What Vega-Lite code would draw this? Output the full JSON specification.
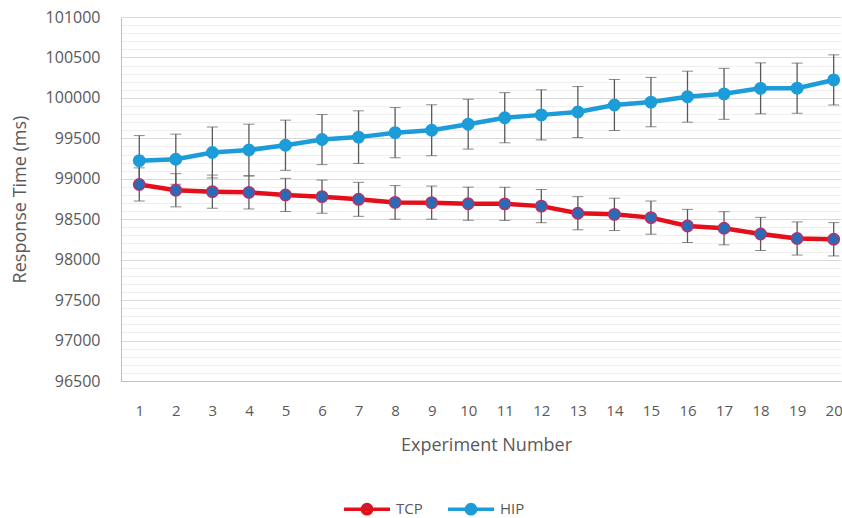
{
  "$schema": "https://vega.github.io/schema/vega-lite/v6.json",
  "autosize": {"type": "none"},
  "padding": {"left": 121, "top": 17, "right": 1, "bottom": 137},
  "width": 720,
  "height": 364,
  "background": "white",
  "config": {"view": {"stroke": null}, "font": "Open Sans"},
  "data": {"values": [
    {"exp": 1, "series": "TCP", "value": 98930, "err": 205},
    {"exp": 2, "series": "TCP", "value": 98858, "err": 205},
    {"exp": 3, "series": "TCP", "value": 98841, "err": 205},
    {"exp": 4, "series": "TCP", "value": 98832, "err": 205},
    {"exp": 5, "series": "TCP", "value": 98800, "err": 205},
    {"exp": 6, "series": "TCP", "value": 98779, "err": 205},
    {"exp": 7, "series": "TCP", "value": 98746, "err": 210},
    {"exp": 8, "series": "TCP", "value": 98708, "err": 208},
    {"exp": 9, "series": "TCP", "value": 98705, "err": 205},
    {"exp": 10, "series": "TCP", "value": 98692, "err": 205},
    {"exp": 11, "series": "TCP", "value": 98690, "err": 205},
    {"exp": 12, "series": "TCP", "value": 98662, "err": 205},
    {"exp": 13, "series": "TCP", "value": 98574, "err": 205},
    {"exp": 14, "series": "TCP", "value": 98560, "err": 200},
    {"exp": 15, "series": "TCP", "value": 98520, "err": 205},
    {"exp": 16, "series": "TCP", "value": 98417, "err": 205},
    {"exp": 17, "series": "TCP", "value": 98388, "err": 205},
    {"exp": 18, "series": "TCP", "value": 98318, "err": 205},
    {"exp": 19, "series": "TCP", "value": 98262, "err": 205},
    {"exp": 20, "series": "TCP", "value": 98252, "err": 206},
    {"exp": 1, "series": "HIP", "value": 99224, "err": 310},
    {"exp": 2, "series": "HIP", "value": 99242, "err": 310},
    {"exp": 3, "series": "HIP", "value": 99325, "err": 315},
    {"exp": 4, "series": "HIP", "value": 99355, "err": 320},
    {"exp": 5, "series": "HIP", "value": 99415, "err": 310},
    {"exp": 6, "series": "HIP", "value": 99485, "err": 310},
    {"exp": 7, "series": "HIP", "value": 99515, "err": 325},
    {"exp": 8, "series": "HIP", "value": 99570, "err": 310},
    {"exp": 9, "series": "HIP", "value": 99600, "err": 315},
    {"exp": 10, "series": "HIP", "value": 99675, "err": 308},
    {"exp": 11, "series": "HIP", "value": 99755, "err": 310},
    {"exp": 12, "series": "HIP", "value": 99790, "err": 310},
    {"exp": 13, "series": "HIP", "value": 99825, "err": 315},
    {"exp": 14, "series": "HIP", "value": 99912, "err": 315},
    {"exp": 15, "series": "HIP", "value": 99948, "err": 305},
    {"exp": 16, "series": "HIP", "value": 100015, "err": 315},
    {"exp": 17, "series": "HIP", "value": 100050, "err": 315},
    {"exp": 18, "series": "HIP", "value": 100118, "err": 315},
    {"exp": 19, "series": "HIP", "value": 100120, "err": 310},
    {"exp": 20, "series": "HIP", "value": 100222, "err": 310}
  ]},
  "encoding": {
    "x": {
      "field": "exp", "type": "quantitative",
      "scale": {"domain": [0.5, 20.2], "nice": false, "zero": false},
      "axis": {
        "title": "Experiment Number",
        "values": [1,2,3,4,5,6,7,8,9,10,11,12,13,14,15,16,17,18,19,20],
        "format": "d", "grid": false, "ticks": false, "tickSize": 0,
        "labelPadding": 22, "labelFontSize": 15, "labelColor": "#595959",
        "labelFlush": false, "labelOverlap": false,
        "titleFontSize": 18, "titleFontWeight": "normal", "titleColor": "#595959",
        "titlePadding": 18, "titleX": 365,
        "domainColor": "#bfbfbf"
      }
    },
    "y": {
      "field": "value", "type": "quantitative",
      "scale": {"domain": [96500, 101000], "nice": false, "zero": false},
      "axis": {
        "title": "Response Time (ms)",
        "values": [96500,96600,96700,96800,96900,97000,97100,97200,97300,97400,97500,97600,97700,97800,97900,98000,98100,98200,98300,98400,98500,98600,98700,98800,98900,99000,99100,99200,99300,99400,99500,99600,99700,99800,99900,100000,100100,100200,100300,100400,100500,100600,100700,100800,100900,101000],
        "format": "d",
        "labelExpr": "datum.value % 500 === 0 ? datum.label : ''",
        "labelOverlap": false,
        "grid": true,
        "gridColor": {"condition": {"test": "datum.value % 500 === 0", "value": "#d9d9d9"}, "value": "#efefef"},
        "ticks": false, "tickSize": 0,
        "labelPadding": 21, "labelFontSize": 16, "labelColor": "#595959",
        "titleFontSize": 18, "titleFontWeight": "normal", "titleColor": "#595959",
        "titleX": -92, "titleY": 182,
        "domainColor": "#bfbfbf"
      }
    }
  },
  "layer": [
    {
      "mark": {"type": "errorbar", "ticks": {"size": 11, "color": "#595959", "strokeWidth": 1.3}, "rule": {"color": "#595959", "strokeWidth": 1.3}},
      "encoding": {
        "y": {"field": "value", "type": "quantitative"},
        "yError": {"field": "err"},
        "detail": {"field": "series"}
      }
    },
    {
      "mark": {"type": "line", "strokeWidth": 4.5},
      "encoding": {
        "color": {
          "field": "series", "type": "nominal",
          "scale": {"domain": ["TCP", "HIP"], "range": ["#e3101a", "#1c9cd8"]},
          "legend": {
            "orient": "none", "legendX": 221, "legendY": 467,
            "direction": "horizontal", "title": null,
            "symbolType": "M-1,0H1M-0.2,0A0.2,0.2 0 1,0 0.2,0A0.2,0.2 0 1,0 -0.2,0",
            "symbolSize": 2116, "symbolStrokeWidth": 3.5,
            "labelFontSize": 15, "labelColor": "#595959", "labelOffset": 4,
            "columnPadding": 18,
            "encode": {"symbols": {"update": {"fill": {"signal": "datum.value === 'TCP' ? '#2a6bb8' : '#1c9cd8'"}, "fillOpacity": {"value": 1}}}}
          }
        }
      }
    },
    {
      "mark": {"type": "point", "filled": true, "size": 130, "strokeWidth": 1.5, "opacity": 1},
      "encoding": {
        "fill": {"field": "series", "type": "nominal", "scale": {"domain": ["TCP", "HIP"], "range": ["#2a6bb8", "#1c9cd8"]}, "legend": null},
        "stroke": {"field": "series", "type": "nominal", "scale": {"domain": ["TCP", "HIP"], "range": ["#b8306a", "#1c9cd8"]}, "legend": null}
      }
    }
  ]
}
